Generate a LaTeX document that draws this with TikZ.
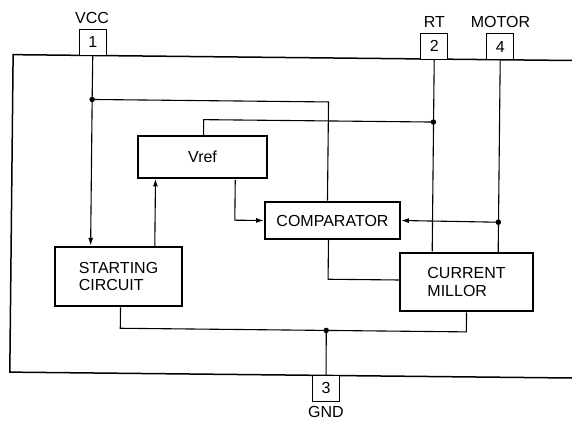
\documentclass[tikz,border=0pt]{standalone}
\usepackage{fontspec}
\setmainfont{Liberation Sans}
\usetikzlibrary{arrows.meta}
\begin{document}
\begin{tikzpicture}[x=1pt,y=-1pt,
  txt/.style={font=\fontsize{16}{17.5}\selectfont},
  blk/.style={draw, line width=2.6pt, align=left, inner sep=0pt, txt},
  pin/.style={draw, line width=1.1pt, minimum width=27pt, minimum height=26pt, inner sep=0pt, txt},
  lbl/.style={inner sep=0pt, txt},
  wire/.style={line width=1.1pt},
  frame/.style={line width=1.5pt},
  arr/.style={-{Latex[length=7.5pt,width=5pt]}},
  jdot/.style={circle, fill, inner sep=0pt, minimum size=5.5pt}]
\useasboundingbox (0,0) rectangle (572,421);
\clip (0,0) rectangle (572,421);
\begin{scope}[rotate around={-0.6:(286,210)}]
  % blocks
  \node[blk, minimum width=129pt, minimum height=42pt] (vref) at (202,158) {Vref};
  \node[blk, minimum width=127pt, minimum height=59pt] (start) at (119.2,278.3) {STARTING\\CIRCUIT};
  \node[blk, minimum width=135pt, minimum height=37pt] (comp) at (332.6,220) {COMPARATOR};
  \node[blk, minimum width=133pt, minimum height=58pt] (curr) at (467.3,280.1) {CURRENT\\MILLOR};
  % frame
  \draw[frame] (590,57.5) -- (11.5,57.5) -- (11.5,375) -- (590,375);
  % pins
  \node[pin, fill=white] (p1) at (91,44.5) {1};
  \node[pin, fill=white] (p2) at (432.5,44.5) {2};
  \node[pin, fill=white] (p4) at (498.5,44.5) {4};
  \node[pin, fill=white] (p3) at (328,388) {3};
  \node[lbl] (vcc) at (90,20) {VCC};
  \node[lbl] (rt) at (432.5,20.5) {RT};
  \node[lbl] (motor) at (498.5,20) {MOTOR};
  \node[lbl] (gnd) at (328,411.6) {GND};
  % junctions
  \coordinate (j1) at (91,101.5);
  \coordinate (j2) at (432.5,120.5);
  \coordinate (j3) at (498.5,220);
  \coordinate (j4) at (327.5,330);
  % wires
  \draw[wire] (p1.south) -- (j1);
  \draw[wire,arr] (j1) -- (start.north -| j1);
  \draw[wire] (j1) -| ([xshift=-5pt]comp.north);
  \draw[wire] ([xshift=1pt]vref.north) |- (j2);
  \draw[wire] (p2.south) -- (curr.north -| p2.south);
  \draw[wire] (p4.south) -- (curr.north -| p4.south);
  \draw[wire,arr] (j3) -- (comp.east);
  \draw[wire,arr] ([xshift=32.7pt]vref.south) |- (comp.west);
  \draw[wire,arr] ([xshift=36.3pt]start.north) -- ([xshift=36.3pt]start.north |- vref.south);
  \draw[wire] ([xshift=-4pt]comp.south) |- ([yshift=2pt]curr.west);
  \draw[wire] ([xshift=2pt]start.south) |- (j4) -| (curr.south);
  \draw[wire] (j4) -- (p3.north);
  % dots
  \node[jdot] (d1) at (j1) {};
  \node[jdot] (d2) at (j2) {};
  \node[jdot] (d3) at (j3) {};
  \node[jdot] (d4) at (j4) {};
\end{scope}
\end{tikzpicture}
\end{document}
